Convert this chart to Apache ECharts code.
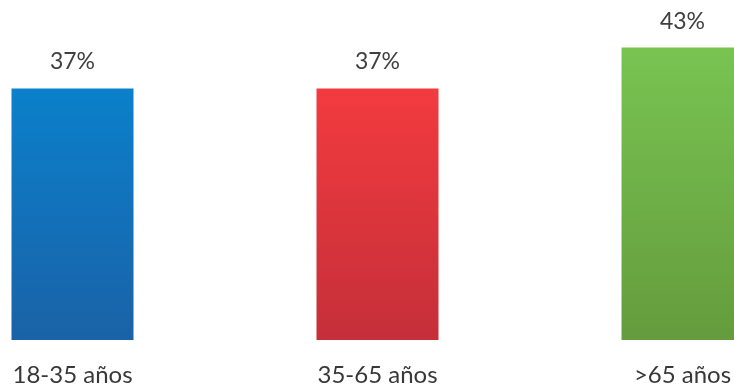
<!DOCTYPE html>
<html>
<head>
<meta charset="utf-8">
<script src="https://cdn.jsdelivr.net/npm/echarts@6/dist/echarts.min.js"></script>
<style>
  html, body { margin: 0; padding: 0; background: #ffffff; overflow: hidden; width: 734px; height: 387px; }
  /* the plot is wider than the window so the outer bars sit close to the edges */
  #chart { position: absolute; left: -80.5px; top: 0; width: 915px; height: 387px; }
</style>
</head>
<body>
<div id="chart"></div>
<script>
// Age groups and the share for each one (%)
const categories = ['18-35 años', '35-65 años', '>65 años'];
const values = [37, 37, 43];
// Gradient colours per bar: [top, bottom]
const barColors = [
  ['#0b80cb', '#1a62a7'],
  ['#f23b3f', '#c52f39'],
  ['#78c451', '#659c3d']
];

const chart = echarts.init(document.getElementById('chart'), null, { renderer: 'canvas' });

chart.setOption({
  animation: false,
  grid: { left: 0, right: 0, top: 0, bottom: 47, containLabel: false },
  xAxis: {
    type: 'category',
    data: categories,
    axisLine: { show: false },
    axisTick: { show: false },
    axisLabel: {
      margin: 23,
      fontFamily: 'Lato',
      fontSize: 24,
      color: '#383838'
    }
  },
  yAxis: {
    type: 'value',
    min: 0,
    max: 50,
    show: false,
    splitLine: { show: false }
  },
  series: [{
    type: 'bar',
    barWidth: '40%',
    data: values.map((v, i) => ({
      value: v,
      itemStyle: {
        color: new echarts.graphic.LinearGradient(0, 0, 0, 1, [
          { offset: 0, color: barColors[i][0] },
          { offset: 1, color: barColors[i][1] }
        ])
      }
    })),
    label: {
      show: true,
      position: 'top',
      distance: 15,
      formatter: p => p.value + '%',
      fontFamily: 'Lato',
      fontSize: 23,
      color: '#404040'
    }
  }]
});
</script>
</body>
</html>
